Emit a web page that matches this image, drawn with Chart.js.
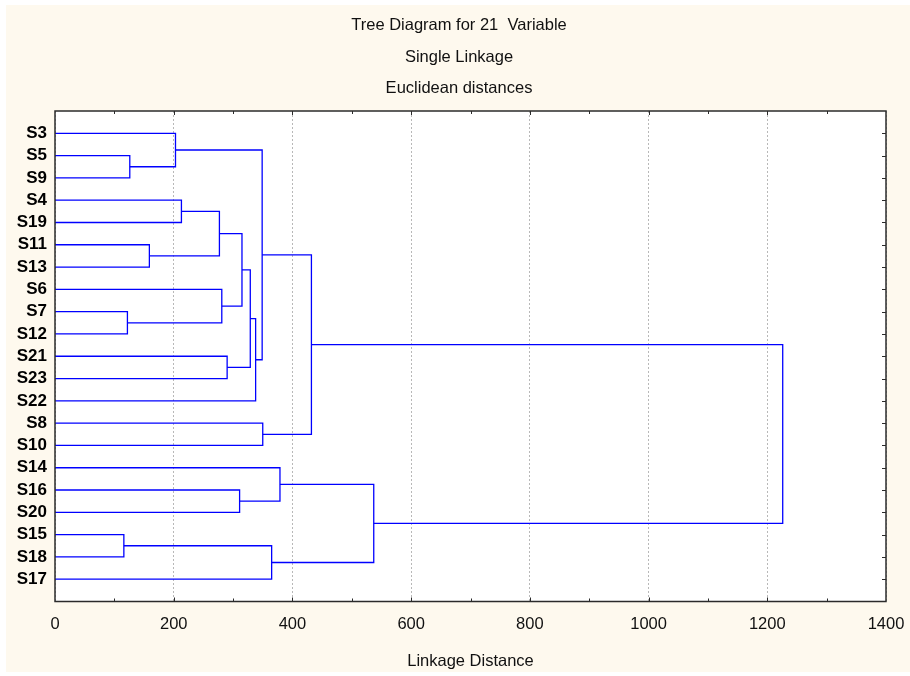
<!DOCTYPE html>
<html>
<head>
<meta charset="utf-8">
<title>Tree Diagram</title>
<script src="https://cdn.jsdelivr.net/npm/chart.js@4.4.1/dist/chart.umd.min.js"></script>
<style>
  html, body { margin: 0; padding: 0; background: #ffffff; }
  #wrap { width: 910px; height: 676px; }
</style>
</head>
<body>
<div id="wrap"><canvas id="treeChart" width="910" height="676"></canvas></div>
<script>
// leaves, top to bottom
const leaves = [
  "S3", "S5", "S9", "S4", "S19", "S11", "S13", "S6", "S7", "S12",
  "S21", "S23", "S22", "S8", "S10", "S14", "S16", "S20", "S15", "S18", "S17"
];

// merge steps: C1, C2, ... join mergeLeft[i] with mergeRight[i] at mergeDist[i]
const mergeLeft  = ["S5", "S3", "S4", "S11", "C3", "S7", "S6", "C5", "S21", "C8",
                    "C10", "C2", "S8", "C12", "S16", "S14", "S15", "C17", "C16", "C14"];
const mergeRight = ["S9", "C1", "S19", "S13", "C4", "S12", "C6", "C7", "S23", "C9",
                    "S22", "C11", "S10", "C13", "S20", "C15", "S18", "S17", "C18", "C19"];
const mergeDist  = [126, 203, 213, 159, 277, 122, 281, 315, 290, 329,
                    338, 349, 350, 432, 311, 379, 116, 365, 537, 1226];

const titleLines = ["Tree Diagram for 21  Variable", "Single Linkage", "Euclidean distances"];
const xTitle = "Linkage Distance";

const FONT = "'Liberation Sans', Arial, sans-serif";

// build one bracket per merge
let nodes = {};
leaves.forEach((name, i) => { nodes[name] = { h: 0, y: i }; });

let datasets = [];
mergeLeft.forEach((a, i) => {
  const b = mergeRight[i];
  const h = mergeDist[i];
  const na = nodes[a];
  const nb = nodes[b];
  datasets.push({
    data: [
      { x: na.h, y: na.y },
      { x: h, y: na.y },
      { x: h, y: nb.y },
      { x: nb.h, y: nb.y },
    ],
    showLine: true,
    borderColor: "#0000ff",
    borderWidth: 1.3,
    pointRadius: 0,
    fill: false,
    tension: 0,
  });
  nodes["C" + (i + 1)] = { h: h, y: (na.y + nb.y) / 2 };
});

// background, titles, frame and inward ticks
const framePlugin = {
  id: "frame",
  beforeDraw(chart) {
    const { ctx, chartArea: a } = chart;
    ctx.save();
    ctx.fillStyle = "#ffffff";
    ctx.fillRect(0, 0, chart.width, chart.height);
    ctx.fillStyle = "#fef9ee";
    ctx.fillRect(6, 5, chart.width - 6, 667);
    ctx.fillStyle = "#ffffff";
    ctx.fillRect(a.left, a.top, a.right - a.left, a.bottom - a.top);

    ctx.fillStyle = "#111111";
    ctx.font = "16.5px " + FONT;
    ctx.textAlign = "center";
    ctx.textBaseline = "middle";
    const titleY = [25, 57, 88];
    titleLines.forEach((t, i) => ctx.fillText(t, 459, titleY[i]));
    ctx.restore();
  },
  afterDraw(chart) {
    const { ctx, chartArea: a } = chart;
    const xs = chart.scales.x;
    const ys = chart.scales.y;
    ctx.save();
    ctx.strokeStyle = "#2b2b2b";
    ctx.lineWidth = 1.5;
    ctx.strokeRect(a.left, a.top, a.right - a.left, a.bottom - a.top);

    ctx.lineWidth = 1;
    ctx.beginPath();
    for (let v = 100; v < 1400; v += 100) {
      const px = Math.round(xs.getPixelForValue(v)) + 0.5;
      const len = v % 200 === 0 ? 4 : 3;
      ctx.moveTo(px, a.top);
      ctx.lineTo(px, a.top + len);
      ctx.moveTo(px, a.bottom);
      ctx.lineTo(px, a.bottom - len);
    }
    leaves.forEach((name, i) => {
      const py = Math.round(ys.getPixelForValue(i)) + 0.5;
      ctx.moveTo(a.right, py);
      ctx.lineTo(a.right - 4, py);
    });
    ctx.stroke();
    ctx.restore();
  },
};

const ctxTree = document.getElementById("treeChart").getContext("2d");

const treeChart = new Chart(ctxTree, {
  type: "scatter",
  data: { datasets: datasets },
  options: {
    responsive: false,
    devicePixelRatio: 1,
    animation: false,
    layout: {
      padding: { left: 7, right: 24, top: 111, bottom: 5 },
    },
    scales: {
      x: {
        type: "linear",
        position: "bottom",
        min: 0,
        max: 1400,
        afterFit: function(scale) {
          scale.height = 69.5;
          scale.paddingLeft = 0;
          scale.paddingRight = 0;
        },
        ticks: {
          stepSize: 200,
          padding: 13,
          color: "#111111",
          font: { family: FONT, size: 16.5 },
          callback: function(value) {
            return String(value);
          },
        },
        grid: {
          color: "#b8b8b8",
          lineWidth: 1,
          drawTicks: false,
          borderDash: [2, 2],
        },
        border: { display: false, dash: [2, 2] },
        title: {
          display: true,
          text: xTitle,
          color: "#111111",
          font: { family: FONT, size: 16.5 },
          padding: { top: 0, bottom: 0 },
        },
      },
      y: {
        type: "linear",
        position: "left",
        reverse: true,
        min: -1,
        max: 21,
        afterFit: function(scale) {
          scale.width = 48;
          scale.paddingTop = 0;
          scale.paddingBottom = 0;
        },
        afterBuildTicks: function(scale) {
          scale.ticks = leaves.map((name, i) => ({ value: i }));
        },
        ticks: {
          autoSkip: false,
          padding: 8,
          color: "#000000",
          font: { family: FONT, size: 17, weight: "bold" },
          callback: function(value) {
            return leaves[value] !== undefined ? leaves[value] : "";
          },
        },
        grid: { display: false, drawTicks: false },
        border: { display: false },
      },
    },
    plugins: {
      legend: { display: false },
      tooltip: { enabled: false },
      title: { display: false },
    },
  },
  plugins: [framePlugin],
});
</script>
</body>
</html>
